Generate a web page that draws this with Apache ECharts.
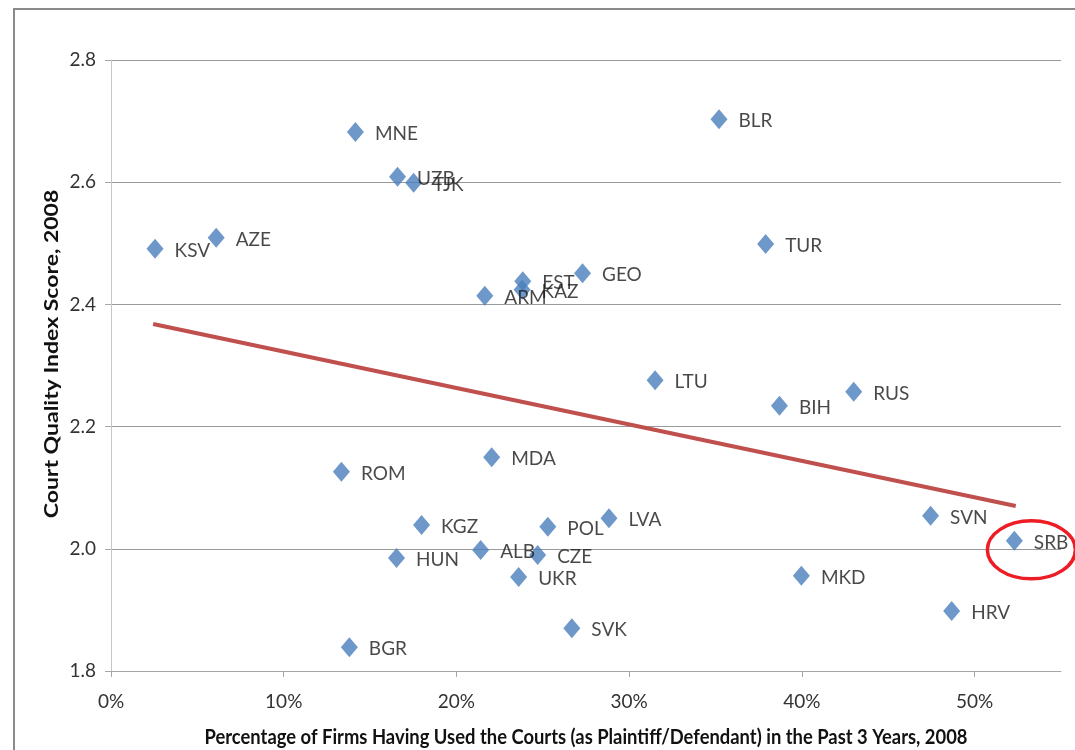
<!DOCTYPE html>
<html>
<head>
<meta charset="utf-8">
<script src="https://cdn.jsdelivr.net/npm/echarts@6/dist/echarts.min.js"></script>
<style>
html,body{margin:0;padding:0;background:#fff;overflow:hidden;}
#chart{width:1075px;height:750px;}
</style>
</head>
<body>
<div id="chart"></div>
<script>
// Country codes
var countries = ['KSV','AZE','MNE','UZB','TJK','BLR','TUR','GEO','EST','KAZ','ARM','LTU','BIH','RUS','MDA','ROM','KGZ','LVA','POL','SVN','ALB','CZE','HUN','UKR','SRB','MKD','HRV','SVK','BGR'];
// Share of firms having used the courts (fraction)
var courtUse = [0.0255,0.0609,0.1415,0.1659,0.1752,0.352,0.379,0.273,0.2384,0.238,0.2164,0.315,0.387,0.430,0.2204,0.1334,0.1798,0.2883,0.2529,0.4745,0.214,0.247,0.1653,0.236,0.523,0.3997,0.4867,0.2668,0.138];
// Court quality index score
var courtQuality = [2.491,2.509,2.682,2.609,2.599,2.703,2.499,2.451,2.438,2.424,2.414,2.276,2.234,2.257,2.150,2.126,2.039,2.050,2.036,2.054,1.998,1.990,1.985,1.954,2.013,1.956,1.898,1.870,1.839];
// Linear trend line end points
var trendX = [0.0244, 0.5238];
var trendY = [2.368, 2.070];
var xTicks = [0,0.1,0.2,0.3,0.4,0.5];
var xTitle = 'Percentage of Firms Having Used the Courts (as Plaintiff/Defendant) in the Past 3 Years, 2008';
var yTitle = 'Court Quality Index Score, 2008';

var FONT = 'Lato, "Open Sans", sans-serif';
var scatterData = countries.map(function(c,i){ return {name:c, value:[courtUse[i], courtQuality[i]]}; });
var trendData = trendX.map(function(x,i){ return [x, trendY[i]]; });

var chart = echarts.init(document.getElementById('chart'), null, {renderer:'canvas', width:1075, height:750});
var option = {
  animation:false,
  backgroundColor:'#fff',
  grid:{left:111, top:60, right:14, bottom:79, containLabel:false, outerBoundsMode:'none'},
  xAxis:{
    type:'value', min:0, max:0.55, interval:0.1,
    axisLine:{show:true, lineStyle:{color:'#a6a6a6', width:1}},
    axisTick:{show:true, length:6, lineStyle:{color:'#a6a6a6'}, customValues:xTicks},
    axisLabel:{fontFamily:FONT, fontSize:19, color:'#333', margin:21,
      customValues:xTicks,
      formatter:function(v){ return Math.round(v*100)+'%'; }},
    splitLine:{show:false}
  },
  yAxis:{
    type:'value', min:1.8, max:2.8, interval:0.2,
    axisLine:{show:true, lineStyle:{color:'#c6c6c6', width:1}},
    axisTick:{show:true, length:6, lineStyle:{color:'#a6a6a6'}},
    axisLabel:{fontFamily:FONT, fontSize:19, color:'#333', margin:15,
      formatter:function(v){ return v.toFixed(1); }},
    splitLine:{show:true, lineStyle:{color:'#9a9a9a', width:1}}
  },
  series:[
    {
      type:'line', data:trendData, symbol:'none', z:3,
      lineStyle:{color:'#c0504d', width:4}, silent:true
    },
    {
      type:'scatter', data:scatterData, symbol:'diamond', symbolSize:[17,20], z:4,
      itemStyle:{color:'#4a7ebb'},
      label:{show:true, position:'right', distance:11, formatter:'{b}',
        fontFamily:FONT, fontSize:19, color:'#1a1a1a', offset:[0,2]}
    }
  ]
};
chart.setOption(option);
var si = countries.indexOf('SRB');
var p = chart.convertToPixel({seriesIndex:1}, [courtUse[si], courtQuality[si]]);
chart.setOption({graphic:[
  {type:'line', shape:{x1:14, y1:9, x2:14, y2:750}, style:{stroke:'#8a8a8a', lineWidth:2}, z:-1, silent:true},
  {type:'line', shape:{x1:13, y1:9, x2:1075, y2:9}, style:{stroke:'#8a8a8a', lineWidth:2}, z:-1, silent:true},
  {type:'ellipse', shape:{cx:p[0]+17, cy:p[1]+9, rx:44, ry:29}, style:{fill:'none', stroke:'#ee1c24', lineWidth:3.5}, z:100, silent:true},
  {type:'text', x:586, y:737, scaleY:1.15, style:{text:xTitle, font:'bold 18.4px '+FONT, fill:'#111', textAlign:'center', textVerticalAlign:'middle'}, z:50, silent:true},
  {type:'text', x:52, y:354, rotation:Math.PI/2, scaleX:1.25, style:{text:yTitle, font:'bold 18.4px '+FONT, fill:'#111', textAlign:'center', textVerticalAlign:'middle'}, z:50, silent:true}
]});
</script>
</body>
</html>
